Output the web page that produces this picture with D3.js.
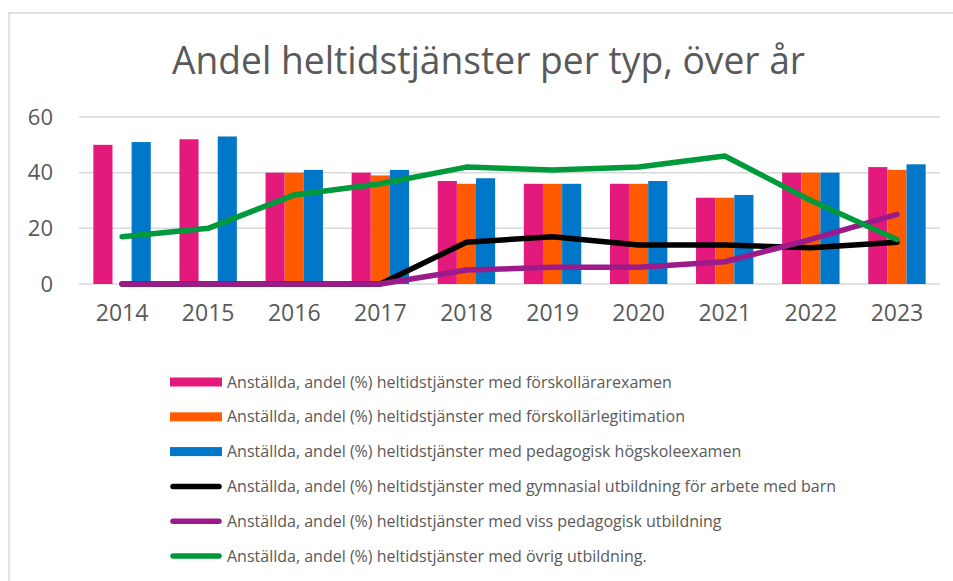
<!DOCTYPE html>
<html>
<head>
<meta charset="utf-8">
<script src="https://cdn.jsdelivr.net/npm/d3@7"></script>
<style>
  body { margin: 0; background: #fff; }
  text { font-family: "Open Sans", sans-serif; fill: #595959; }
</style>
</head>
<body>
<div id="chart"></div>
<script>
// Data
const years = ["2014", "2015", "2016", "2017", "2018", "2019", "2020", "2021", "2022", "2023"];
const forskollararexamen = [50, 52, 40, 40, 37, 36, 36, 31, 40, 42];
const forskollarlegitimation = [null, null, 40, 39, 36, 36, 36, 31, 40, 41];
const pedagogiskHogskoleexamen = [51, 53, 41, 41, 38, 36, 37, 32, 40, 43];
const gymnasialUtbildning = [0, 0, 0, 0, 15, 17, 14, 14, 13, 15];
const vissPedagogisk = [0, 0, 0, 0, 5, 6, 6, 8, 16, 25];
const ovrigUtbildning = [17, 20, 32, 36, 42, 41, 42, 46, 30, 16];
const yTicks = [0, 20, 40, 60];

const prefix = "Anställda, andel (%) heltidstjänster med ";
const barSeries = [
  {name: prefix + "förskollärarexamen", color: "#e3197b", values: forskollararexamen},
  {name: prefix + "förskollärlegitimation", color: "#ff5a00", values: forskollarlegitimation},
  {name: prefix + "pedagogisk högskoleexamen", color: "#0077c8", values: pedagogiskHogskoleexamen}
];
const lineSeries = [
  {name: prefix + "gymnasial utbildning för arbete med barn", color: "#000000", values: gymnasialUtbildning},
  {name: prefix + "viss pedagogisk utbildning", color: "#9b1b8a", values: vissPedagogisk},
  {name: prefix + "övrig utbildning.", color: "#00993c", values: ovrigUtbildning}
];

const width = 953, height = 581;
const plot = {left: 79, right: 940, top: 117, bottom: 284};

const svg = d3.select("#chart").append("svg")
    .attr("width", width)
    .attr("height", height);

// chart frame
svg.append("rect")
    .attr("x", 9).attr("y", 13)
    .attr("width", 960).attr("height", 600)
    .attr("fill", "none")
    .attr("stroke", "#d9d9d9")
    .attr("stroke-width", 1.5);

svg.append("text")
    .attr("x", 172)
    .attr("y", 74)
    .attr("font-size", 38)
    .attr("textLength", 633)
    .attr("lengthAdjust", "spacingAndGlyphs")
    .text("Andel heltidstjänster per typ, över år");

const x0 = d3.scaleBand()
    .domain(years)
    .range([plot.left, plot.right])
    .paddingInner(1 / 3)
    .paddingOuter(1 / 6);

const x1 = d3.scaleBand()
    .domain(d3.range(barSeries.length))
    .range([0, x0.bandwidth()]);

const y = d3.scaleLinear()
    .domain([0, 60])
    .range([plot.bottom, plot.top]);

// gridlines
svg.append("g")
  .selectAll("line")
  .data(yTicks)
  .join("line")
    .attr("x1", plot.left).attr("x2", plot.right)
    .attr("y1", d => y(d)).attr("y2", d => y(d))
    .attr("stroke", "#d9d9d9")
    .attr("stroke-width", 1.5);

// y axis labels
const yAxis = svg.append("g")
    .attr("transform", "translate(" + (plot.left - 26) + ",0)")
    .call(d3.axisLeft(y).tickValues(yTicks).tickSize(0).tickPadding(0));
yAxis.select(".domain").remove();
yAxis.selectAll("text").attr("font-size", 22).attr("fill", "#595959")
    .attr("font-family", "'Open Sans', sans-serif");

// x axis labels
const xAxis = svg.append("g")
    .attr("transform", "translate(0," + plot.bottom + ")")
    .call(d3.axisBottom(x0).tickSize(0).tickPadding(21));
xAxis.select(".domain").remove();
xAxis.selectAll("text").attr("font-size", 23).attr("fill", "#595959")
    .attr("font-family", "'Open Sans', sans-serif");

// bars
barSeries.forEach((s, i) => {
  svg.append("g")
    .selectAll("rect")
    .data(s.values.map((v, j) => ({year: years[j], v: v})).filter(d => d.v != null))
    .join("rect")
      .attr("x", d => x0(d.year) + x1(i))
      .attr("y", d => y(d.v))
      .attr("width", x1.bandwidth())
      .attr("height", d => y(0) - y(d.v))
      .attr("fill", s.color);
});

// lines
const line = d3.line()
    .x((d, j) => x0(years[j]) + x0.bandwidth() / 2)
    .y(d => y(d));

lineSeries.forEach(s => {
  svg.append("path")
      .datum(s.values)
      .attr("fill", "none")
      .attr("stroke", s.color)
      .attr("stroke-width", 5.5)
      .attr("stroke-linejoin", "round")
      .attr("stroke-linecap", "round")
      .attr("d", line);
});

// legend
const legendY = d3.scaleLinear().domain([0, 5]).range([382, 556]);
const legend = svg.append("g");
const allSeries = barSeries.map(s => ({...s, type: "bar"}))
    .concat(lineSeries.map(s => ({...s, type: "line"})));

allSeries.forEach((s, i) => {
  const yy = legendY(i);
  if (s.type === "bar") {
    legend.append("rect")
        .attr("x", 170).attr("y", yy - 4.5)
        .attr("width", 52).attr("height", 9)
        .attr("fill", s.color);
  } else {
    legend.append("line")
        .attr("x1", 173).attr("x2", 219)
        .attr("y1", yy).attr("y2", yy)
        .attr("stroke", s.color)
        .attr("stroke-width", 5.5)
        .attr("stroke-linecap", "round");
  }
  legend.append("text")
      .attr("x", 227)
      .attr("y", yy)
      .attr("dy", "0.35em")
      .attr("font-size", 16)
      .text(s.name);
});
</script>
</body>
</html>
